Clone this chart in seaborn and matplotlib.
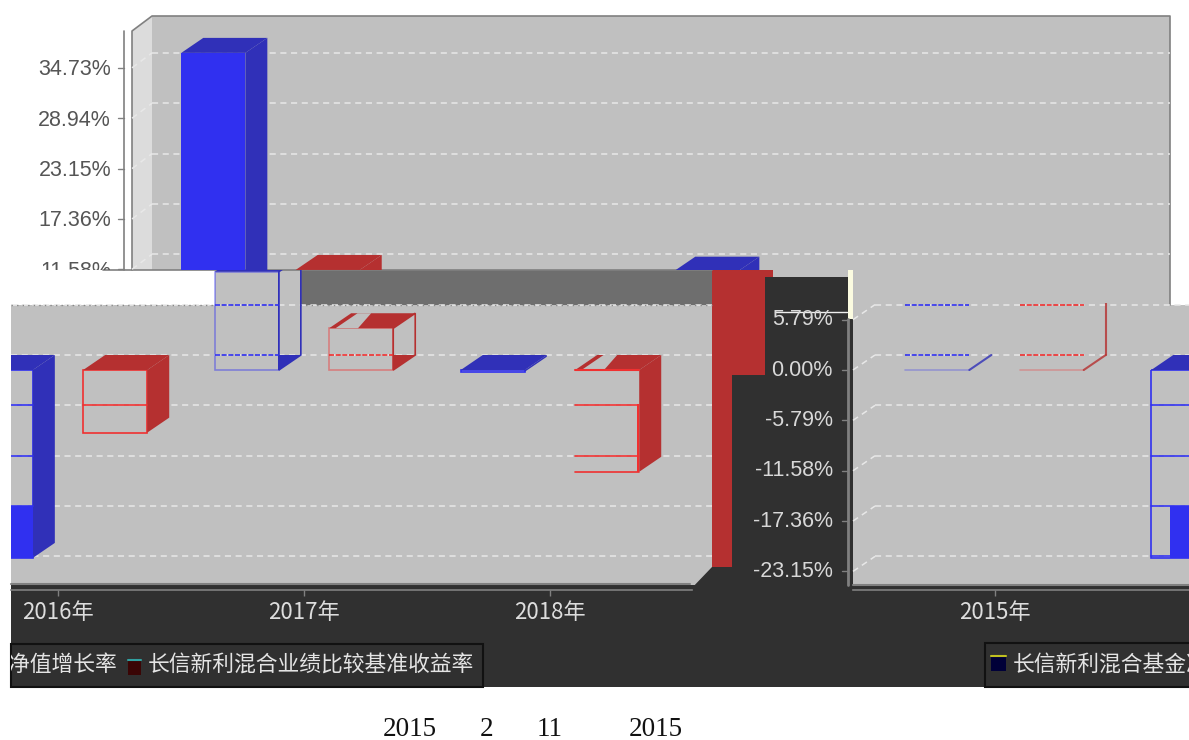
import matplotlib
matplotlib.use('Agg')
import matplotlib.pyplot as plt
from matplotlib.patches import Polygon, Rectangle
import pandas as pd
import seaborn as sns

years = ['2015年', '2016年', '2017年', '2018年']
fund_name = '长信新利混合基金净值增长率'
bench_name = '长信新利混合业绩比较基准收益率'
fund_values = [36.45, -21.6, 11.3, -0.2]
bench_values = [11.5, -7.2, 4.8, -11.7]
tick_values = [34.73, 28.94, 23.15, 17.36, 11.58, 5.79, 0.00, -5.79, -11.58, -17.36, -23.15]
footer_parts = ['2015', '2', '11', '2015']

W, H = 1189, 740
GROUP_PX = 246
UNIT_PX = 8.7
ZERO_PX = 370
DEPTH_X, DEPTH_Y = 22, 15

BLUE, BLUE_DARK = '#3030f0', '#3030b8'
RED, RED_DARK = '#f03030', '#b53030'
GRAY, DARK = '#c0c0c0', '#303030'
GRID = '#e8e8e8'


def py(v):
    return ZERO_PX - UNIT_PX * v


def rect(ax, x0, y0, x1, y1, color, **kw):
    ax.add_patch(Rectangle((x0, y0), x1 - x0, y1 - y0, facecolor=color, edgecolor='none', **kw))


def grid_row(ax, v, x0, x1, wall=None):
    y = py(v) - DEPTH_Y
    ax.plot([x0, x1], [y, y], color=GRID, lw=1.1, ls=(0, (4, 3)))
    if wall is not None:
        ax.plot([wall, x0], [py(v), y], color=GRID, lw=1.1, ls=(0, (4, 3)))


def draw_faces(ax, bar, dark, bright, ghost, faint_upper, is_bench):
    dx = DEPTH_X / GROUP_PX
    dy = DEPTH_Y / UNIT_PX
    x0 = bar.get_x()
    w = bar.get_width()
    x1 = x0 + w
    low = min(bar.get_y(), bar.get_y() + bar.get_height())
    high = max(bar.get_y(), bar.get_y() + bar.get_height())
    top = [(x0, high), (x0 + dx, high + dy), (x1 + dx, high + dy), (x1, high)]
    side = [(x1, low), (x1 + dx, low + dy), (x1 + dx, high + dy), (x1, high)]
    ax.add_patch(Polygon(top, facecolor=dark, edgecolor='none'))
    if not ghost:
        bar.set_edgecolor('none')
        bar.set_linewidth(0)
        ax.add_patch(Polygon(side, facecolor=dark, edgecolor='none'))
        return
    bar.set_facecolor('none')
    bar.set_edgecolor(bright)
    bar.set_linewidth(1.2)
    if is_bench and (1 < high < 8 or low < -10):
        # the paler patch on the lid of these two bars
        s = [x0 + 0.1 * w, x0 + 0.45 * w]
        ax.add_patch(Polygon([(s[0], high), (s[0] + dx, high + dy), (s[1] + dx * 0.6, high + dy), (s[1], high)],
                             facecolor=GRAY, edgecolor='none'))
    if high > 1 and faint_upper:
        bar.set_edgecolor('none')
        ax.plot([x0, x1], [low, low], color=bright, lw=1.2, alpha=0.3)
        ax.plot([x1, x1 + dx], [low, low + dy], color=dark, lw=1.5, alpha=0.8)
        if is_bench:
            ax.plot([x1 + dx, x1 + dx], [low + dy, high + dy], color=dark, lw=1.5, alpha=0.8)
    elif high > 1:
        bar.set_alpha(0.45)
        # upper bars keep only the outline and a corner of the side
        ax.add_patch(Polygon(side, facecolor='none', edgecolor=dark, lw=1.2))
        ax.add_patch(Polygon([(x1, low), (x1 + dx, low + dy), (x1, low + dy)], facecolor=dark, edgecolor='none'))
    else:
        ax.add_patch(Polygon(side, facecolor=dark, edgecolor='none'))
    for t in tick_values:
        v = t + DEPTH_Y / UNIT_PX
        if low < v < high:
            ax.plot([x0, x1], [v, v], color=bright, lw=1.2, ls=(0, (3, 1)) if t >= 0 else '-')
    if low < -17:
        ax.add_patch(Rectangle((x0 + 0.3 * w, low), 0.7 * w, -17.36 + DEPTH_Y / UNIT_PX - low,
                               facecolor=bright, edgecolor='none'))
    if is_bench and low < -10:
        bar.set_edgecolor('none')
        ax.plot([x0, x1], [high, high], color=bright, lw=1.5)
        ax.plot([x0, x1], [low, low], color=bright, lw=1.2)
        ax.add_patch(Rectangle((x1 - 0.03 * w, low), 0.03 * w, high - 3.9 - low, facecolor=bright, edgecolor='none'))


def bar_panel(fig, df, x0, y0, x1, y1, first_center, ghost=False, axis_to=None, faint_upper=False):
    ax = fig.add_axes([x0 / W, 1 - y1 / H, (x1 - x0) / W, (y1 - y0) / H])
    sns.barplot(data=df, x='year', y='value', hue='series', hue_order=[fund_name, bench_name], order=years,
                palette=[BLUE, RED], saturation=1, width=0.93, gap=0.44, legend=False, ax=ax)
    ax.set_xlim((x0 - first_center) / GROUP_PX, (x1 - first_center) / GROUP_PX)
    ax.set_ylim((ZERO_PX - y1) / UNIT_PX, (ZERO_PX - y0) / UNIT_PX)
    ax.patch.set_visible(False)
    ax.set_xlabel('')
    ax.set_ylabel('')
    ax.set_yticks([])
    for s in ['top', 'left', 'right']:
        ax.spines[s].set_visible(False)
    if axis_to is not None:
        ax.spines['bottom'].set_color('#808080')
        ax.spines['bottom'].set_linewidth(1.2)
        ax.spines['bottom'].set_bounds(ax.get_xlim()[0], (axis_to - first_center) / GROUP_PX)
        ax.tick_params(axis='x', colors='#808080', length=4, width=1, pad=4, bottom=True)
        for label in ax.get_xticklabels():
            label.set_color('#dddddd')
            label.set_fontsize(16)
    else:
        ax.spines['bottom'].set_visible(False)
        ax.set_xticks([])
    for i, bar in enumerate(list(ax.patches)):
        is_bench = i >= len(years)
        dark, bright = (RED_DARK, RED) if is_bench else (BLUE_DARK, BLUE)
        draw_faces(ax, bar, dark, bright, ghost, faint_upper, is_bench)
    return ax


sns.set_theme(style='white')
plt.rcParams['font.family'] = ['Noto Sans CJK SC', 'DejaVu Sans']

df = pd.DataFrame({
    'year': years * 2,
    'value': fund_values + bench_values,
    'series': [fund_name] * len(years) + [bench_name] * len(years),
})

fig = plt.figure(figsize=(W / 100, H / 100), dpi=100, facecolor='white')
bg = fig.add_axes([0, 0, 1, 1])
bg.set_xlim(0, W)
bg.set_ylim(H, 0)
bg.axis('off')

# broken-up picture: the plot walls and the dark surround
rect(bg, 152, 16, 1170, 270, GRAY)
rect(bg, 773, 270, 1170, 305, GRAY)
bg.add_patch(Polygon([(132, 31), (152, 16), (152, 270), (132, 270)], facecolor='#dcdcdc', edgecolor='none'))
bg.plot([132, 132, 152, 1170, 1170], [270, 31, 16, 16, 305], color='#808080', lw=1.2)
rect(bg, 215, 270, 300, 305, GRAY)
rect(bg, 300, 270, 712, 305, '#6e6e6e')
rect(bg, 11, 305, 712, 590, GRAY)
rect(bg, 853, 305, W, 590, GRAY)
rect(bg, 11, 585, W, 687, DARK)
rect(bg, 765, 277, 853, 590, DARK)
rect(bg, 732, 375, 765, 590, DARK)
rect(bg, 712, 567, 732, 590, DARK)
bg.add_patch(Polygon([(690, 590), (712, 567), (712, 590)], facecolor=DARK, edgecolor='none'))
rect(bg, 712, 270, 732, 567, RED_DARK)
rect(bg, 732, 270, 765, 375, RED_DARK)
rect(bg, 765, 270, 773, 277, RED_DARK)
rect(bg, 848, 270, 853, 319, '#fbfbe0')
bg.plot([775, 847], [312, 312], color='#eeeeee', lw=1)
bg.plot([11, 690], [584, 584], color='#808080', lw=1.5)
bg.plot([853, W], [585, 585], color='#808080', lw=1.5)
bg.plot([103, 712], [270, 270], color='#808080', lw=1.2)
bg.plot([124, 124], [31, 270], color='#808080', lw=1.2)
bg.plot([848, 848], [319, 585], color='#808080', lw=2)

# grid lines of the three pieces
for t in tick_values:
    if py(t) - DEPTH_Y < 270:
        grid_row(bg, t, 152, 1170, wall=132)
    if t <= 5.79:
        grid_row(bg, t, 11, 712)
        grid_row(bg, t, 875, W, wall=853)
for x0, x1 in [(11, 215), (300, 712)]:
    bg.plot([x0, x1], [305, 305], color='#888888', lw=1, ls=(0, (1, 3)))

# value labels, gray on white above, pale on dark below
clip_top = Rectangle((0, 0), 124, 270, transform=bg.transData)
for t in tick_values:
    if t > 6:
        bg.plot([118, 124], [py(t), py(t)], color='#808080', lw=1)
        txt = bg.text(111, py(t) + 2, f'{t:.2f}%', ha='right', va='center', fontsize=15.5,
                      family='Liberation Sans', color='#555555')
        txt.set_clip_path(clip_top)
        txt.set_clip_on(True)
    else:
        bg.plot([842, 847], [py(t), py(t)], color='#808080', lw=1)
        bg.text(833, py(t), f'{t:.2f}%', ha='right', va='center', fontsize=15.5,
                family='Liberation Sans', color='#d8d8d8')

bar_panel(fig, df, 132, 0, 1170, 270, 270.5)
bar_panel(fig, df, 11, 270, 712, 590, -188, ghost=True, axis_to=692)
bar_panel(fig, df, 853, 303, W, 590, 994.5, ghost=True, axis_to=W, faint_upper=True)

# legend boxes
clip_legend = Rectangle((11, 644), 472, 43, transform=bg.transData)
bg.add_patch(Rectangle((11, 644), 472, 43, facecolor=DARK, edgecolor='#111111', lw=1.5))
bg.add_patch(Rectangle((985, 643), 210, 44, facecolor=DARK, edgecolor='#111111', lw=1.5))
rect(bg, 128, 660, 141, 675, '#3a0505')
bg.plot([128, 141], [660, 660], color='#30a0a0', lw=1.5)
rect(bg, 991, 657, 1006, 671, '#000038')
bg.plot([991, 1006], [656, 656], color='#c0c020', lw=1.5)
left_legend = bg.text(117, 666, fund_name, ha='right', va='center', fontsize=15.7, color='#e4e4e4')
left_legend.set_clip_path(clip_legend)
left_legend.set_clip_on(True)
bg.text(148, 666, bench_name, ha='left', va='center', fontsize=15.7, color='#e4e4e4')
bg.text(1013, 666, fund_name, ha='left', va='center', fontsize=15.7, color='#e4e4e4', clip_on=True)

# footer line under the picture
for x, part in zip([410, 487, 550, 656], footer_parts):
    bg.text(x, 729, part, ha='center', va='center', fontsize=19.5, family='Liberation Serif', color='#111111')

fig.savefig('out.png', dpi=100)
